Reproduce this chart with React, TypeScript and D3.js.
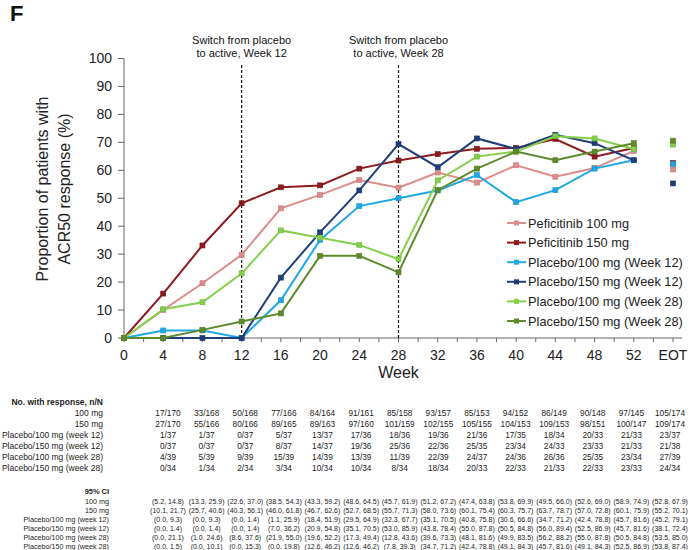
import React from 'react';
import * as d3 from 'd3';

const weeks = ['0', '4', '8', '12', '16', '20', '24', '28', '32', '36', '40', '44', '48', '52', 'EOT'];
const yTicks = [0, 10, 20, 30, 40, 50, 60, 70, 80, 90, 100];

const seriesNames = [
  'Peficitinib 100 mg',
  'Peficitinib 150 mg',
  'Placebo/100 mg (Week 12)',
  'Placebo/150 mg (Week 12)',
  'Placebo/100 mg (Week 28)',
  'Placebo/150 mg (Week 28)',
];
// values for weeks 0..52, then EOT
const pef100 = [0, 10.0, 19.6, 29.8, 46.4, 51.2, 56.5, 53.8, 59.2, 55.6, 61.8, 57.7, 60.8, 66.9, 60.3];
const pef150 = [0, 15.9, 33.1, 48.2, 53.9, 54.6, 60.6, 63.5, 65.8, 67.7, 68.0, 71.2, 64.9, 68.0, 62.6];
const pla100w12 = [0, 2.7, 2.7, 0, 13.5, 35.1, 47.2, 50.0, 52.8, 58.3, 48.6, 52.9, 60.6, 63.6, 62.2];
const pla150w12 = [0, 0, 0, 0, 21.6, 37.8, 52.8, 69.4, 61.1, 71.4, 67.6, 72.7, 69.7, 63.6, 55.3];
const pla100w28 = [0, 10.3, 12.8, 23.1, 38.5, 35.9, 33.3, 28.2, 56.4, 64.9, 66.7, 72.2, 71.4, 67.6, 69.2];
const pla150w28 = [0, 0, 2.9, 5.9, 8.8, 29.4, 29.4, 23.5, 52.9, 60.6, 66.7, 63.6, 66.7, 69.7, 70.6];
const seriesValues = [pef100, pef150, pla100w12, pla150w12, pla100w28, pla150w28];
const seriesColors = ['#dc8c8c', '#8c1a1f', '#1ea8e6', '#1f3d7a', '#84d04a', '#5e8a2c'];

const switchWeeks = ['12', '28'];

const tableLabels = [
  '100 mg',
  '150 mg',
  'Placebo/100 mg (week 12)',
  'Placebo/150 mg (week 12)',
  'Placebo/100 mg (week 28)',
  'Placebo/150 mg (week 28)',
];
const nn100 = ['17/170', '33/168', '50/168', '77/166', '84/164', '91/161', '85/158', '93/157', '85/153', '94/152', '86/149', '90/148', '97/145', '105/174'];
const nn150 = ['27/170', '55/166', '80/166', '89/165', '89/163', '97/160', '101/159', '102/155', '105/155', '104/153', '109/153', '98/151', '100/147', '109/174'];
const nnP100w12 = ['1/37', '1/37', '0/37', '5/37', '13/37', '17/36', '18/36', '19/36', '21/36', '17/35', '18/34', '20/33', '21/33', '23/37'];
const nnP150w12 = ['0/37', '0/37', '0/37', '8/37', '14/37', '19/36', '25/36', '22/36', '25/35', '23/34', '24/33', '23/33', '21/33', '21/38'];
const nnP100w28 = ['4/39', '5/39', '9/39', '15/39', '14/39', '13/39', '11/39', '22/39', '24/37', '24/36', '26/36', '25/35', '23/34', '27/39'];
const nnP150w28 = ['0/34', '1/34', '2/34', '3/34', '10/34', '10/34', '8/34', '18/34', '20/33', '22/33', '21/33', '22/33', '23/33', '24/34'];
const nnRows = [nn100, nn150, nnP100w12, nnP150w12, nnP100w28, nnP150w28];

const ci100 = ['(5.2, 14.8)', '(13.3, 25.9)', '(22.6, 37.0)', '(38.5, 54.3)', '(43.3, 59.2)', '(48.6, 64.5)', '(45.7, 61.9)', '(51.2, 67.2)', '(47.4, 63.8)', '(53.8, 69.9)', '(49.5, 66.0)', '(52.6, 69.0)', '(58.9, 74.9)', '(52.8, 67.9)'];
const ci150 = ['(10.1, 21.7)', '(25.7, 40.6)', '(40.3, 56.1)', '(46.0, 61.8)', '(46.7, 62.6)', '(52.7, 68.5)', '(55.7, 71.3)', '(58.0, 73.6)', '(60.1, 75.4)', '(60.3, 75.7)', '(63.7, 78.7)', '(57.0, 72.8)', '(60.1, 75.9)', '(55.2, 70.1)'];
const ciP100w12 = ['(0.0, 9.3)', '(0.0, 9.3)', '(0.0, 1.4)', '(1.1, 25.9)', '(18.4, 51.9)', '(29.5, 64.9)', '(32.3, 67.7)', '(35.1, 70.5)', '(40.8, 75.8)', '(30.6, 66.6)', '(34.7, 71.2)', '(42.4, 78.8)', '(45.7, 81.6)', '(45.2, 79.1)'];
const ciP150w12 = ['(0.0, 1.4)', '(0.0, 1.4)', '(0.0, 1.4)', '(7.0, 36.2)', '(20.9, 54.8)', '(35.1, 70.5)', '(53.0, 85.9)', '(43.8, 78.4)', '(55.0, 87.8)', '(50.5, 84.8)', '(56.0, 89.4)', '(52.5, 86.9)', '(45.7, 81.6)', '(38.1, 72.4)'];
const ciP100w28 = ['(0.0, 21.1)', '(1.0, 24.6)', '(8.6, 37.6)', '(21.9, 55.0)', '(19.6, 52.2)', '(17.3, 49.4)', '(12.8, 43.6)', '(39.6, 73.3)', '(48.1, 81.6)', '(49.9, 83.5)', '(56.2, 88.2)', '(55.0, 87.8)', '(50.5, 84.8)', '(53.5, 85.0)'];
const ciP150w28 = ['(0.0, 1.5)', '(0.0, 10.1)', '(0.0, 15.3)', '(0.0, 19.8)', '(12.6, 46.2)', '(12.6, 46.2)', '(7.8, 39.3)', '(34.7, 71.2)', '(42.4, 78.8)', '(49.1, 84.3)', '(45.7, 81.6)', '(49.1, 84.3)', '(52.5, 86.9)', '(53.8, 87.4)'];
const ciRows = [ci100, ci150, ciP100w12, ciP150w12, ciP100w28, ciP150w28];

const FONT = 'Liberation Sans, Arial, sans-serif';

export default function App() {
  const W = 691;
  const H = 550;
  const x = d3.scalePoint<string>().domain(weeks).range([124, 673]);
  const y = d3.scaleLinear().domain([0, 100]).range([338, 58.5]);
  const step = x.step();
  const lineWeeks = weeks.slice(0, 14);
  const line = d3
    .line<number>()
    .x((_, i) => x(lineWeeks[i]) as number)
    .y((d) => y(d));

  const minorTicks: number[] = [];
  for (let i = 0; i < weeks.length; i++) {
    const px = x(weeks[i]) as number;
    minorTicks.push(px);
    minorTicks.push(px + step / 2);
  }

  const colWeeks = weeks.slice(1);
  const xt = d3.scalePoint<string>().domain(colWeeks).range([168, 670]);

  const nnTop = 402;
  const nnRowH = 11;
  const ciTop = 491.5;
  const ciFirst = 501;
  const ciRowH = 9;

  const legendY = d3.scalePoint<string>().domain(seriesNames).range([223, 321]);
  const ms = 5;

  return (
    <svg
      width={W}
      height={H}
      style={{ position: 'absolute', left: 0, top: 0, background: '#fff' }}
      fontFamily={FONT}
    >
      <rect x={0} y={0} width={W} height={H} fill="#fff" />
      <text x={10} y={21} fontSize={22} fontWeight="bold" fill="#111">F</text>

      {/* y axis */}
      <line x1={124} x2={124} y1={y(100)} y2={y(0)} stroke="#666" strokeWidth={1} />
      {yTicks.map((t) => (
        <g key={t}>
          <line x1={118} x2={124} y1={y(t)} y2={y(t)} stroke="#666" />
          <text x={112} y={y(t)} dy="0.35em" textAnchor="end" fontSize={14} fill="#222">{t}</text>
        </g>
      ))}
      <text transform={`translate(48,${189}) rotate(-90)`} textAnchor="middle" fontSize={16} fill="#222">
        Proportion of patients with
      </text>
      <text transform={`translate(70,${189}) rotate(-90)`} textAnchor="middle" fontSize={16} fill="#222">
        ACR50 response (%)
      </text>

      {/* x axis */}
      <line x1={124} x2={682} y1={y(0)} y2={y(0)} stroke="#666" strokeWidth={1} />
      {minorTicks.map((px, i) => (
        <line key={i} x1={px} x2={px} y1={y(0)} y2={y(0) + 4} stroke="#666" />
      ))}
      {weeks.map((w) => (
        <text key={w} x={x(w)} y={360} textAnchor="middle" fontSize={14} fill="#222">{w}</text>
      ))}
      <text x={x('28')} y={378} textAnchor="middle" fontSize={16} fill="#222">Week</text>

      {/* switch annotations */}
      {switchWeeks.map((w) => (
        <g key={w}>
          <line x1={x(w)} x2={x(w)} y1={65} y2={y(0)} stroke="#111" strokeWidth={1.2} strokeDasharray="3,2" />
          <text x={x(w)} y={44} textAnchor="middle" fontSize={11} fill="#111">Switch from placebo</text>
          <text x={x(w)} y={57} textAnchor="middle" fontSize={11} fill="#111">{`to active, Week ${w}`}</text>
        </g>
      ))}

      {/* series */}
      {seriesValues.map((vals, si) => (
        <g key={si}>
          <path d={line(vals.slice(0, 14)) || ''} fill="none" stroke={seriesColors[si]} strokeWidth={2} />
          {vals.map((v, i) => (
            <rect
              key={i}
              x={(x(weeks[i]) as number) - ms / 2}
              y={y(v) - ms / 2}
              width={ms}
              height={ms}
              fill={seriesColors[si]}
              stroke={d3.color(seriesColors[si])!.darker(0.4).toString()}
              strokeWidth={0.6}
            />
          ))}
        </g>
      ))}

      {/* legend */}
      {seriesNames.map((n, si) => {
        const ly = legendY(n) as number;
        return (
          <g key={n}>
            <line x1={507} x2={526} y1={ly} y2={ly} stroke={seriesColors[si]} strokeWidth={2} />
            <rect x={516.5 - ms / 2} y={ly - ms / 2} width={ms} height={ms} fill={seriesColors[si]} />
            <text x={528} y={ly} dy="0.36em" fontSize={12.8} fill="#222">{n}</text>
          </g>
        );
      })}

      {/* n/N table */}
      <text x={103} y={nnTop + 3} textAnchor="end" fontSize={8.5} fontWeight="bold" fill="#222">
        No. with response, n/N
      </text>
      {tableLabels.map((lab, ri) => (
        <g key={lab}>
          <text x={103} y={nnTop + (ri + 1) * nnRowH + 3} textAnchor="end" fontSize={8.5} fill="#222">{lab}</text>
          {nnRows[ri].map((s, ci) => (
            <text key={ci} x={xt(colWeeks[ci])} y={nnTop + (ri + 1) * nnRowH + 3} textAnchor="middle" fontSize={8.3} fill="#222">
              {s}
            </text>
          ))}
        </g>
      ))}

      {/* CI table */}
      <text x={109} y={ciTop + 2.5} textAnchor="end" fontSize={7.4} fontWeight="bold" fill="#222">95% CI</text>
      {tableLabels.map((lab, ri) => (
        <g key={lab}>
          <text x={109} y={ciFirst + ri * ciRowH + 2.5} textAnchor="end" fontSize={7.2} fill="#222">{lab}</text>
          {ciRows[ri].map((s, ci) => (
            <text key={ci} x={xt(colWeeks[ci])} y={ciFirst + ri * ciRowH + 2.5} textAnchor="middle" fontSize={7} fill="#222">
              {s}
            </text>
          ))}
        </g>
      ))}
    </svg>
  );
}
